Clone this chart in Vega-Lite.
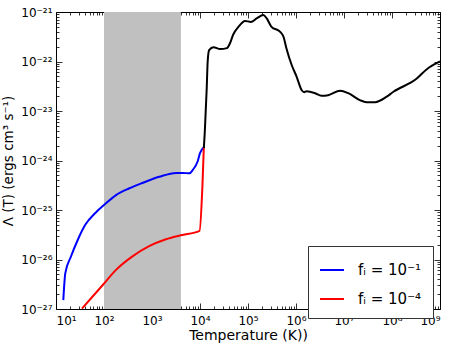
{
  "$schema": "https://vega.github.io/schema/vega-lite/v6.json",
  "autosize": {"type": "none"},
  "padding": {"left": 56, "top": 12, "right": 17, "bottom": 39},
  "width": 384,
  "height": 297,
  "background": "white",
  "config": {
    "view": {"stroke": null},
    "axis": {"labelFont": "DejaVu Sans", "titleFont": "DejaVu Sans", "labelColor": "black", "titleColor": "black", "domainColor": "black", "tickColor": "black", "grid": false, "titleFontWeight": "normal", "zindex": 1, "domainWidth": 1, "tickWidth": 0.8},
    "legend": {"labelFont": "DejaVu Sans"}
  },
  "datasets": {
    "band": [{"t0": 100, "t1": 4000, "l0": 1e-27, "l1": 1e-21}],
    "colored": [
      {"s": "fᵢ = 10⁻¹", "T": 14.2, "L": 1.51e-27},
      {"s": "fᵢ = 10⁻¹", "T": 15.6, "L": 5.25e-27},
      {"s": "fᵢ = 10⁻¹", "T": 20.5, "L": 1.15e-26},
      {"s": "fᵢ = 10⁻¹", "T": 28.2, "L": 2.45e-26},
      {"s": "fᵢ = 10⁻¹", "T": 40.7, "L": 5.01e-26},
      {"s": "fᵢ = 10⁻¹", "T": 67.6, "L": 8.91e-26},
      {"s": "fᵢ = 10⁻¹", "T": 100, "L": 1.26e-25},
      {"s": "fᵢ = 10⁻¹", "T": 178, "L": 2.0e-25},
      {"s": "fᵢ = 10⁻¹", "T": 339, "L": 2.75e-25},
      {"s": "fᵢ = 10⁻¹", "T": 646, "L": 3.55e-25},
      {"s": "fᵢ = 10⁻¹", "T": 1413, "L": 4.68e-25},
      {"s": "fᵢ = 10⁻¹", "T": 3162, "L": 5.62e-25},
      {"s": "fᵢ = 10⁻¹", "T": 4365, "L": 5.62e-25},
      {"s": "fᵢ = 10⁻¹", "T": 6026, "L": 5.5e-25},
      {"s": "fᵢ = 10⁻¹", "T": 7079, "L": 6.46e-25},
      {"s": "fᵢ = 10⁻¹", "T": 8913, "L": 9.55e-25},
      {"s": "fᵢ = 10⁻¹", "T": 10000, "L": 1.41e-24},
      {"s": "fᵢ = 10⁻¹", "T": 12023, "L": 1.85e-24},
      {"s": "fᵢ = 10⁻⁴", "T": 34.7, "L": 1.02e-27},
      {"s": "fᵢ = 10⁻⁴", "T": 93.3, "L": 3.02e-27},
      {"s": "fᵢ = 10⁻⁴", "T": 178, "L": 6.17e-27},
      {"s": "fᵢ = 10⁻⁴", "T": 398, "L": 1.17e-26},
      {"s": "fᵢ = 10⁻⁴", "T": 871, "L": 1.86e-26},
      {"s": "fᵢ = 10⁻⁴", "T": 1950, "L": 2.57e-26},
      {"s": "fᵢ = 10⁻⁴", "T": 3981, "L": 3.09e-26},
      {"s": "fᵢ = 10⁻⁴", "T": 9772, "L": 3.8e-26},
      {"s": "fᵢ = 10⁻⁴", "T": 11220, "L": 3.0e-25},
      {"s": "fᵢ = 10⁻⁴", "T": 12023, "L": 1.85e-24}
    ],
    "black": [
      {"T": 12023, "L": 1.78e-24},
      {"T": 12589, "L": 3.8e-24},
      {"T": 13804, "L": 2.88e-23},
      {"T": 14454, "L": 1.0e-22},
      {"T": 15488, "L": 1.7e-22},
      {"T": 19055, "L": 1.95e-22},
      {"T": 26303, "L": 1.78e-22},
      {"T": 36308, "L": 1.86e-22},
      {"T": 42170, "L": 2.34e-22},
      {"T": 48978, "L": 3.47e-22},
      {"T": 63096, "L": 5.01e-22},
      {"T": 87096, "L": 6.61e-22},
      {"T": 114815, "L": 6.31e-22},
      {"T": 151356, "L": 7.41e-22},
      {"T": 208930, "L": 8.71e-22},
      {"T": 245471, "L": 7.41e-22},
      {"T": 309030, "L": 5.01e-22},
      {"T": 467735, "L": 3.98e-22},
      {"T": 549541, "L": 3.16e-22},
      {"T": 630957, "L": 1.86e-22},
      {"T": 812831, "L": 8.51e-23},
      {"T": 1023293, "L": 5.01e-23},
      {"T": 1318257, "L": 2.63e-23},
      {"T": 1479108, "L": 2.4e-23},
      {"T": 1659587, "L": 2.51e-23},
      {"T": 2511886, "L": 2.29e-23},
      {"T": 3388442, "L": 2.04e-23},
      {"T": 4677351, "L": 2.09e-23},
      {"T": 8317638, "L": 2.57e-23},
      {"T": 12302688, "L": 2.29e-23},
      {"T": 21379621, "L": 1.66e-23},
      {"T": 29512092, "L": 1.51e-23},
      {"T": 44668359, "L": 1.51e-23},
      {"T": 77624712, "L": 1.95e-23},
      {"T": 107151931, "L": 2.45e-23},
      {"T": 323593657, "L": 4.47e-23},
      {"T": 524807460, "L": 6.92e-23},
      {"T": 1000000000, "L": 1.0e-22}
    ]
  },
  "layer": [
    {
      "data": {"name": "band"},
      "mark": {"type": "rect", "color": "#c0c0c0"},
      "encoding": {
        "x": {"field": "t0", "type": "quantitative",
          "scale": {"type": "log", "domain": [10, 1000000000], "nice": false},
          "axis": {
            "orient": "bottom", "title": "Temperature (K))", "titleFontSize": 14, "titlePadding": 2,
            "labelFontSize": 12, "labelPadding": 12,
            "values": [10,20,30,40,50,60,70,80,90,100,200,300,400,500,600,700,800,900,1000,2000,3000,4000,5000,6000,7000,8000,9000,1e4,2e4,3e4,4e4,5e4,6e4,7e4,8e4,9e4,1e5,2e5,3e5,4e5,5e5,6e5,7e5,8e5,9e5,1e6,2e6,3e6,4e6,5e6,6e6,7e6,8e6,9e6,1e7,2e7,3e7,4e7,5e7,6e7,7e7,8e7,9e7,1e8,2e8,3e8,4e8,5e8,6e8,7e8,8e8,9e8,1e9],
            "labelExpr": "abs(log(datum.value)/LN10 - round(log(datum.value)/LN10)) < 0.001 ? '10' + ['⁰','¹','²','³','⁴','⁵','⁶','⁷','⁸','⁹'][round(log(datum.value)/LN10)] : ''",
            "tickSize": {"condition": {"test": "abs(log(datum.value)/LN10 - round(log(datum.value)/LN10)) < 0.001", "value": -6}, "value": -3}
          }
        },
        "x2": {"field": "t1"},
        "y": {"field": "l0", "type": "quantitative",
          "scale": {"type": "log", "domain": [1e-27, 1e-21], "nice": false},
          "axis": {
            "orient": "left", "title": "Λ (T) (ergs cm³ s⁻¹)", "titleFontSize": 13.5, "titlePadding": 5,
            "labelFontSize": 12, "labelPadding": 10,
            "values": [1e-27,2e-27,3e-27,4e-27,5e-27,6e-27,7e-27,8e-27,9e-27,1e-26,2e-26,3e-26,4e-26,5e-26,6e-26,7e-26,8e-26,9e-26,1e-25,2e-25,3e-25,4e-25,5e-25,6e-25,7e-25,8e-25,9e-25,1e-24,2e-24,3e-24,4e-24,5e-24,6e-24,7e-24,8e-24,9e-24,1e-23,2e-23,3e-23,4e-23,5e-23,6e-23,7e-23,8e-23,9e-23,1e-22,2e-22,3e-22,4e-22,5e-22,6e-22,7e-22,8e-22,9e-22,1e-21],
            "labelExpr": "abs(log(datum.value)/LN10 - round(log(datum.value)/LN10)) < 0.001 ? '10⁻²' + ['⁰','¹','²','³','⁴','⁵','⁶','⁷','⁸','⁹'][-round(log(datum.value)/LN10) - 20] : ''",
            "tickSize": {"condition": {"test": "abs(log(datum.value)/LN10 - round(log(datum.value)/LN10)) < 0.001", "value": -6}, "value": -3}
          }
        },
        "y2": {"field": "l1"}
      }
    },
    {
      "data": {"name": "colored"},
      "mark": {"type": "line", "strokeWidth": 2, "clip": true, "interpolate": "monotone"},
      "encoding": {
        "x": {"field": "T", "type": "quantitative", "axis": null},
        "y": {"field": "L", "type": "quantitative", "axis": null},
        "color": {"field": "s", "type": "nominal",
          "scale": {"domain": ["fᵢ = 10⁻¹", "fᵢ = 10⁻⁴"], "range": ["#0000ff", "#ff0000"]},
          "legend": {
            "title": null, "orient": "none", "legendX": 252, "legendY": 234,
            "symbolType": "stroke", "symbolSize": 576, "symbolStrokeWidth": 2,
            "labelFontSize": 15, "labelOffset": 13, "rowPadding": 8,
            "padding": 11, "strokeColor": "#333333", "fillColor": "white", "cornerRadius": 0
          }
        }
      }
    },
    {
      "data": {"name": "black"},
      "mark": {"type": "line", "strokeWidth": 2, "color": "black", "clip": true, "interpolate": "monotone"},
      "encoding": {
        "x": {"field": "T", "type": "quantitative",
          "axis": {
            "orient": "top", "title": null, "labels": false,
            "values": [10,20,30,40,50,60,70,80,90,100,200,300,400,500,600,700,800,900,1000,2000,3000,4000,5000,6000,7000,8000,9000,1e4,2e4,3e4,4e4,5e4,6e4,7e4,8e4,9e4,1e5,2e5,3e5,4e5,5e5,6e5,7e5,8e5,9e5,1e6,2e6,3e6,4e6,5e6,6e6,7e6,8e6,9e6,1e7,2e7,3e7,4e7,5e7,6e7,7e7,8e7,9e7,1e8,2e8,3e8,4e8,5e8,6e8,7e8,8e8,9e8,1e9],
            "tickSize": {"condition": {"test": "abs(log(datum.value)/LN10 - round(log(datum.value)/LN10)) < 0.001", "value": -6}, "value": -3}
          }
        },
        "y": {"field": "L", "type": "quantitative",
          "axis": {
            "orient": "right", "title": null, "labels": false,
            "values": [1e-27,2e-27,3e-27,4e-27,5e-27,6e-27,7e-27,8e-27,9e-27,1e-26,2e-26,3e-26,4e-26,5e-26,6e-26,7e-26,8e-26,9e-26,1e-25,2e-25,3e-25,4e-25,5e-25,6e-25,7e-25,8e-25,9e-25,1e-24,2e-24,3e-24,4e-24,5e-24,6e-24,7e-24,8e-24,9e-24,1e-23,2e-23,3e-23,4e-23,5e-23,6e-23,7e-23,8e-23,9e-23,1e-22,2e-22,3e-22,4e-22,5e-22,6e-22,7e-22,8e-22,9e-22,1e-21],
            "tickSize": {"condition": {"test": "abs(log(datum.value)/LN10 - round(log(datum.value)/LN10)) < 0.001", "value": -6}, "value": -3}
          }
        }
      }
    }
  ],
  "resolve": {"axis": {"x": "independent", "y": "independent"}}
}
